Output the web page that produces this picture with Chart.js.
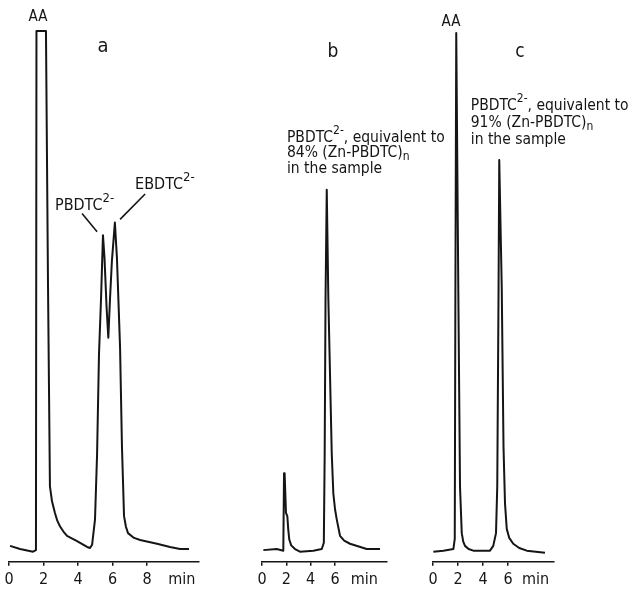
<!DOCTYPE html>
<html>
<head>
<meta charset="utf-8">
<script src="https://cdn.jsdelivr.net/npm/chart.js@4"></script>
<style>
  body { margin: 0; background: #fff; }
  #wrap { position: relative; width: 635px; height: 598px; overflow: hidden; }
  canvas { position: absolute; top: 0; }
</style>
</head>
<body>
<div id="wrap">
  <canvas id="chartA" width="215" height="598" style="left:0px"></canvas>
  <canvas id="chartB" width="200" height="598" style="left:250px"></canvas>
  <canvas id="chartC" width="214" height="598" style="left:421px"></canvas>
</div>
<script>
// chromatogram a - retention time (min) and detector signal (% of full scale)
const timeA = [0.06, 0.64, 1.39, 1.56, 1.59, 2.14, 2.26, 2.37, 2.49, 2.66, 2.80, 2.95, 3.15, 3.36, 3.94, 4.52, 4.69,
  4.81, 4.98, 5.10, 5.21, 5.33, 5.44, 5.53, 5.65, 5.75, 5.85, 5.96, 6.13, 6.25, 6.31, 6.43, 6.54, 6.66,
  6.77, 6.89, 7.24, 7.59, 8.57, 9.32, 9.90, 10.42];
const signalA = [3.0, 2.4, 1.9, 2.2, 100, 100, 51.6, 14.2, 11.4, 9.2, 7.7, 6.7, 5.7, 4.9, 3.9, 2.8, 2.6,
  3.2, 8.0, 20.4, 39.1, 49.7, 61.5, 57.2, 47.9, 42.2, 49.7, 56.8, 63.9, 57.2, 51.6, 40.4, 21.7, 8.6,
  6.6, 5.4, 4.5, 4.1, 3.4, 2.8, 2.4, 2.4];

// chromatogram b
const timeB = [0.11, 1.21, 1.75, 1.81, 1.86, 1.97, 2.08, 2.16, 2.24, 2.40, 2.71, 3.12, 4.22, 4.91, 5.08, 5.15,
  5.22, 5.32, 5.45, 5.73, 5.86, 6.00, 6.14, 6.41, 6.75, 7.23, 8.60, 9.70];
const signalB = [2.2, 2.4, 2.1, 16.7, 16.6, 9.2, 8.6, 6.0, 4.2, 3.1, 2.4, 1.9, 2.1, 2.4, 3.6, 20.4,
  49.7, 70.1, 49.7, 20.4, 12.9, 9.9, 8.0, 4.9, 4.0, 3.4, 2.4, 2.4];

// chromatogram c
const timeC = [0.03, 0.83, 1.63, 1.74, 1.79, 1.86, 2.03, 2.16, 2.30, 2.42, 2.56, 2.85, 3.22, 4.56, 4.82, 5.04,
  5.14, 5.24, 5.30, 5.50, 5.64, 5.76, 5.90, 6.10, 6.42, 6.90, 7.50, 8.96];
const signalC = [1.9, 2.1, 2.4, 4.3, 49.7, 99.6, 49.7, 14.2, 5.4, 3.8, 3.0, 2.4, 2.1, 2.1, 3.0, 5.4,
  14.2, 49.7, 75.7, 51.6, 21.7, 11.0, 6.2, 4.5, 3.4, 2.6, 2.1, 1.7];

// axis ticks
const tickValuesA = [0, 2, 4, 6, 8, 10];
const tickLabelsA = ['0', '2', '4', '6', '8', 'min'];
const tickValuesB = [0, 2, 4, 6, 8.4];
const tickLabelsB = ['0', '2', '4', '6', 'min'];
const tickValuesC = [0, 2, 4, 6, 8.2];
const tickLabelsC = ['0', '2', '4', '6', 'min'];

// annotation texts
const peakLabel = 'AA';
const panelLabels = ['a', 'b', 'c'];
const ionP = 'PBDTC';
const ionE = 'EBDTC';
const charge = '2-';
const noteB = [', equivalent to', '84% (Zn-PBDTC)', 'in the sample'];
const noteC = [', equivalent to', '91% (Zn-PBDTC)', 'in the sample'];
const polySub = 'n';

const FONT = '"Liberation Sans Narrow", "DejaVu Sans Condensed", sans-serif';
const INK = '#151515';

function drawRich(ctx, px, py, parts, size, align) {
  const fontOf = k => `${k ? Math.round(size * 0.8) : size}px ${FONT}`;
  let w = 0;
  parts.forEach(([s, k]) => { ctx.font = fontOf(k); w += ctx.measureText(s).width; });
  let cx = align === 'center' ? px - w / 2 : px;
  ctx.textBaseline = 'alphabetic';
  ctx.textAlign = 'left';
  parts.forEach(([s, k]) => {
    ctx.font = fontOf(k);
    const dy = k === 'sup' ? -size * 0.5 : k === 'sub' ? size * 0.22 : 0;
    ctx.fillText(s, cx, py + dy);
    cx += ctx.measureText(s).width;
  });
}

const notesPlugin = {
  id: 'notes',
  afterDatasetsDraw(chart, args, opts) {
    const { ctx, scales: { x, y } } = chart;
    ctx.save();
    ctx.fillStyle = INK; ctx.strokeStyle = INK; ctx.lineWidth = 1.6;
    (opts.lines || []).forEach(l => {
      ctx.beginPath();
      ctx.moveTo(x.getPixelForValue(l[0]), y.getPixelForValue(l[1]));
      ctx.lineTo(x.getPixelForValue(l[2]), y.getPixelForValue(l[3]));
      ctx.stroke();
    });
    (opts.texts || []).forEach(n =>
      drawRich(ctx, x.getPixelForValue(n.t), y.getPixelForValue(n.v), n.parts, n.size || 15.5, n.align));
    ctx.restore();
  }
};

function makeChart(id, times, signal, maxT, ticksV, ticksL, pad, notes) {
  return new Chart(document.getElementById(id), {
    type: 'line',
    data: {
      datasets: [{
        data: times.map((t, i) => ({ x: t, y: signal[i] })),
        borderColor: INK, borderWidth: 2, pointRadius: 0, tension: 0,
        borderJoinStyle: 'round', fill: false, clip: false
      }]
    },
    options: {
      responsive: false, animation: false,
      layout: { padding: pad },
      plugins: { legend: { display: false }, tooltip: { enabled: false }, notes },
      scales: {
        x: {
          type: 'linear', min: 0, max: maxT,
          afterBuildTicks: ax => { ax.ticks = ticksV.map(v => ({ value: v })); },
          ticks: {
            color: INK, padding: 4, maxRotation: 0, autoSkip: false,
            font: { size: 16, family: FONT },
            callback: (v, i) => ticksL[i]
          },
          grid: {
            drawOnChartArea: false, tickLength: 4, lineWidth: 1.5,
            color: c => (ticksL[c.index] === 'min' ? 'rgba(0,0,0,0)' : INK)
          },
          border: { color: INK, width: 1.6 }
        },
        y: { display: false, min: 0, max: 100 }
      }
    },
    plugins: [notesPlugin]
  });
}

makeChart('chartA', timeA, signalA, 11, tickValuesA, tickLabelsA,
  { left: 9, right: 16, top: 31, bottom: 5 },
  {
    lines: [[4.23, 65.6, 5.10, 62.2], [7.88, 69.3, 6.43, 64.5]],
    texts: [
      { t: 1.68, v: 101.9, parts: [[peakLabel]], align: 'center', size: 15 },
      { t: 5.44, v: 96.1, parts: [[panelLabels[0]]], align: 'center', size: 20 },
      { t: 2.66, v: 66.2, parts: [[ionP], [charge, 'sup']], size: 16 },
      { t: 7.30, v: 70.3, parts: [[ionE], [charge, 'sup']], size: 16 }
    ]
  });

makeChart('chartB', timeB, signalB, 10.27, tickValuesB, tickLabelsB,
  { left: 12, right: 63, top: 31, bottom: 5 },
  {
    texts: [
      { t: 5.83, v: 95.1, parts: [[panelLabels[1]]], align: 'center', size: 19 },
      { t: 2.05, v: 79.1, parts: [[ionP], [charge, 'sup'], [noteB[0]]] },
      { t: 2.05, v: 76.3, parts: [[noteB[1]], [polySub, 'sub']] },
      { t: 2.05, v: 73.3, parts: [[noteB[2]]] }
    ]
  });

makeChart('chartC', timeC, signalC, 9.68, tickValuesC, tickLabelsC,
  { left: 12, right: 81, top: 31, bottom: 5 },
  {
    texts: [
      { t: 1.44, v: 100.9, parts: [[peakLabel]], align: 'center', size: 15 },
      { t: 6.96, v: 95.1, parts: [[panelLabels[2]]], align: 'center', size: 19 },
      { t: 3.02, v: 85.2, parts: [[ionP], [charge, 'sup'], [noteC[0]]] },
      { t: 3.02, v: 81.9, parts: [[noteC[1]], [polySub, 'sub']] },
      { t: 3.02, v: 78.7, parts: [[noteC[2]]] }
    ]
  });
</script>
</body>
</html>
